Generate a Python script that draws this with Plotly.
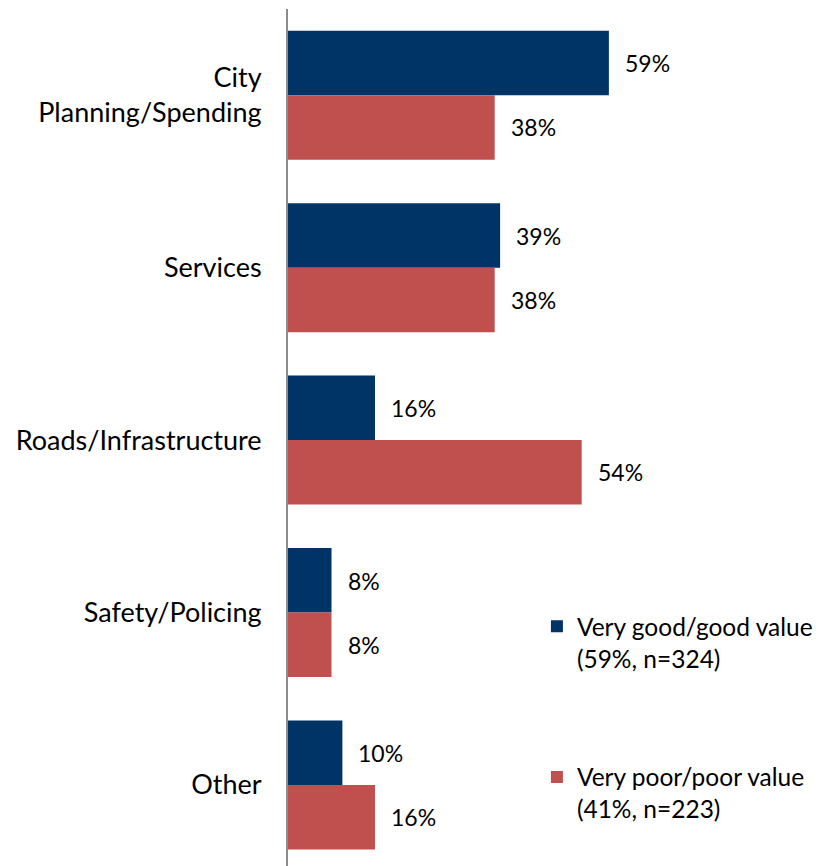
import plotly.graph_objects as go

categories = ["City<br>Planning/Spending", "Services", "Roads/Infrastructure", "Safety/Policing", "Other"]
good_values = [59, 39, 16, 8, 10]
poor_values = [38, 38, 54, 8, 16]
good_name = "Very good/good value<br>(59%, n=324)"
poor_name = "Very poor/poor value<br>(41%, n=223)"

NAVY = "#003366"
RED = "#C0504D"
FONT = "Lato"

fig = go.Figure()
fig.add_trace(go.Bar(y=categories, x=good_values, orientation="h", name=good_name,
                     marker=dict(color=NAVY, line=dict(width=0)), legendgroup="g"))
fig.add_trace(go.Bar(y=categories, x=poor_values, orientation="h", name=poor_name,
                     marker=dict(color=RED, line=dict(width=0)), legendgroup="p"))

ann = []
for c, v in zip(categories, good_values):
    ann.append(dict(x=v, y=c, text=f"{v}%", showarrow=False, xanchor="left",
                    xshift=14, yshift=32, font=dict(size=23, color="#000", family=FONT)))
for c, v in zip(categories, poor_values):
    ann.append(dict(x=v, y=c, text=f"{v}%", showarrow=False, xanchor="left",
                    xshift=14, yshift=-32, font=dict(size=23, color="#000", family=FONT)))

fig.update_layout(
    width=813, height=858,
    margin=dict(l=280, r=0, t=1, b=0),
    paper_bgcolor="white", plot_bgcolor="white",
    barmode="group", bargap=0.252, bargroupgap=0,
    font=dict(family=FONT, size=23, color="#000"),
    annotations=ann,
    xaxis=dict(range=[0, 98], visible=False, automargin=False),
    yaxis=dict(autorange=False, range=[4.47, -0.5], showline=True, linecolor="#8C8C8C",
               linewidth=2, ticks="", showgrid=False, zeroline=False, automargin=False,
               ticklabelstandoff=19, tickfont=dict(size=27, family=FONT, color="#000")),
    showlegend=True,
    legend=dict(x=0.467, y=0.306, xanchor="left", yanchor="top", traceorder="grouped",
                valign="top", itemwidth=30,
                tracegroupgap=84, font=dict(size=24.5, family=FONT, color="#000"),
                bgcolor="rgba(0,0,0,0)", itemclick=False),
)
fig.write_html("out.html")
